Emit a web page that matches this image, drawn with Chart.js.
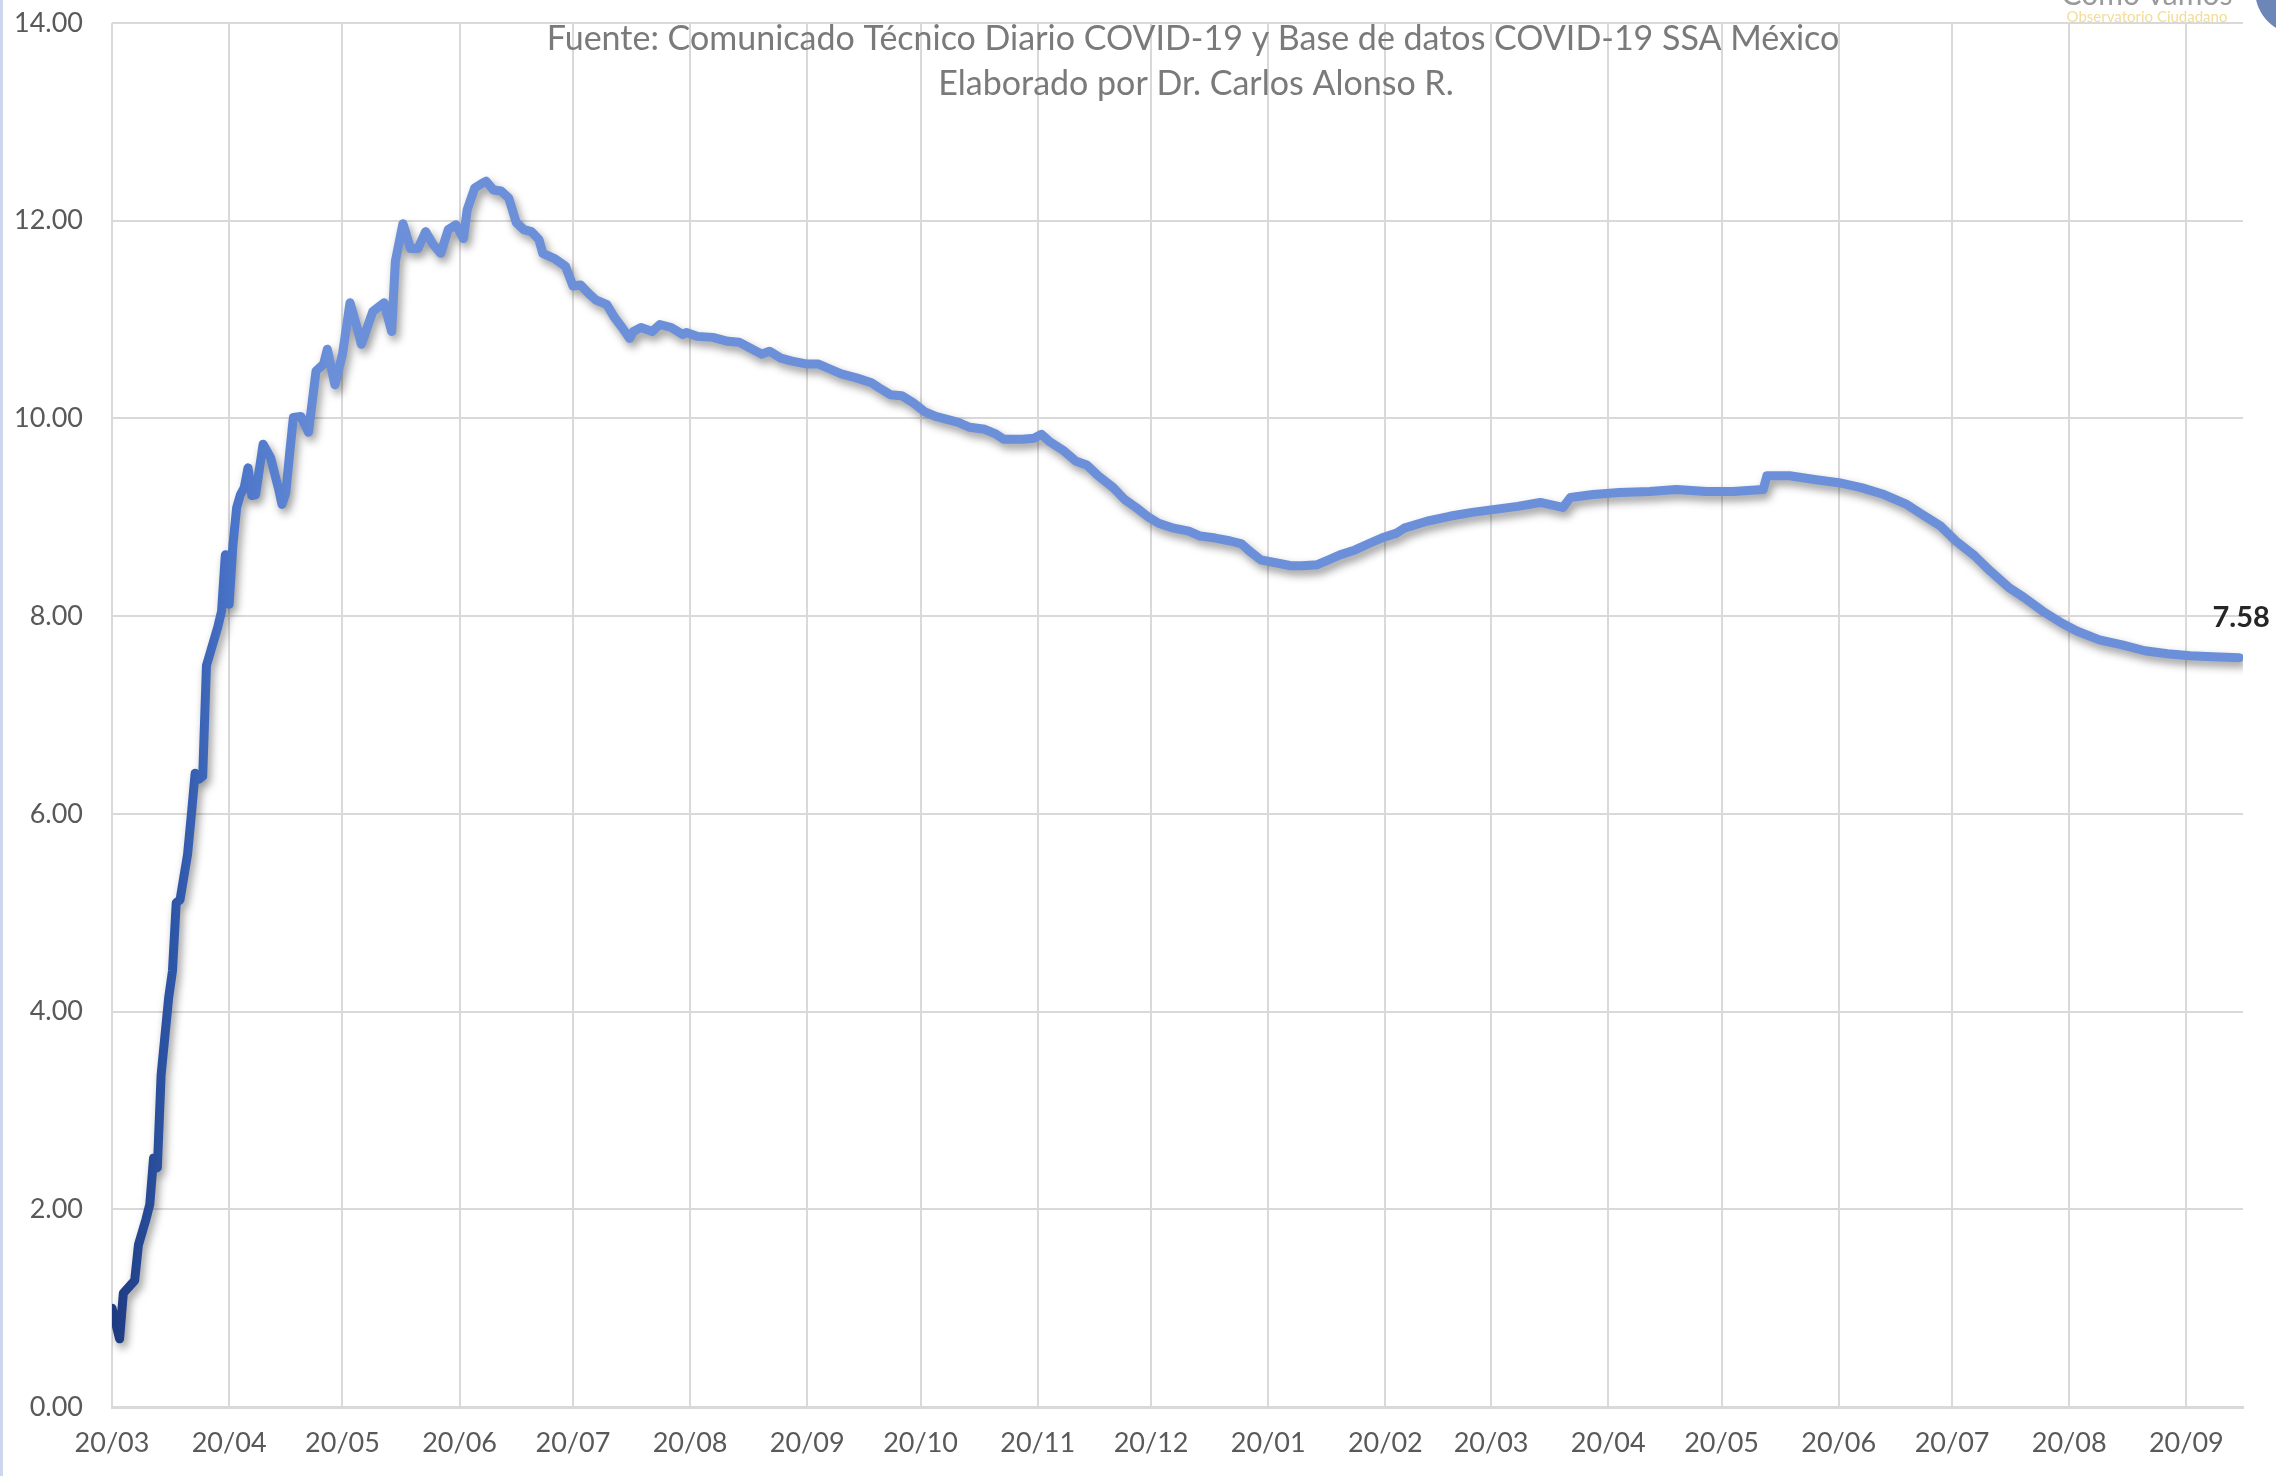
<!DOCTYPE html>
<html lang="es">
<head>
    <meta charset="utf-8">
    <title>Letalidad COVID-19 México</title>
    <script src="https://cdn.jsdelivr.net/npm/chart.js"></script>
    <style>
        html, body { margin: 0; padding: 0; background: #ffffff; }
        #wrap { position: relative; width: 2276px; height: 1476px; }
    </style>
</head>
<body>
    <div id="wrap"><canvas id="cfrChart"></canvas></div>
    <script>
        // days counted from 20/03/2020, value = letalidad (%)
        const days = [
            0, 2, 3, 6, 7, 9, 10, 11, 12, 13, 15, 16, 17, 18, 20, 21, 22, 23, 24, 25, 26, 28, 29,
            30, 31, 32, 33, 34, 35, 36, 37, 38, 40, 42, 44, 45, 46, 47, 48, 50, 52, 54, 56, 57, 59,
            61, 63, 65, 66, 69, 72, 74, 75, 77, 79, 81, 83, 85, 87, 89, 91, 93, 94, 96, 98, 99,
            101, 103, 105, 107, 109, 111, 113, 114, 117, 120, 122, 124, 126, 128, 131, 133, 135,
            137, 138, 140, 143, 145, 148, 151, 152, 155, 159, 163, 166, 169, 172, 174, 177, 180,
            184, 187, 190, 193, 197, 201, 203, 206, 209, 212, 215, 218, 221, 224, 227, 231, 234,
            236, 241, 244, 246, 248, 252, 255, 258, 261, 265, 268, 271, 274, 277, 281, 285, 288,
            292, 296, 299, 301, 304, 308, 312, 315, 319, 322, 325, 329, 333, 336, 340, 342, 348,
            354, 360, 366, 372, 378, 384, 386, 392, 399, 407, 414, 422, 429, 437, 438, 444, 451,
            457, 463, 469, 475, 479, 484, 488, 493, 497, 502, 506, 511, 516, 520, 526, 532, 538,
            544, 550, 556, 563
        ];
        const cfr = [
            1.00, 0.69, 1.15, 1.28, 1.64, 1.90, 2.05, 2.52, 2.42, 3.36, 4.14, 4.41, 5.10, 5.13, 5.59, 5.99, 6.41, 6.35, 6.38, 7.50, 7.63, 7.89, 8.05,
            8.62, 8.12, 8.72, 9.10, 9.23, 9.30, 9.50, 9.22, 9.23, 9.74, 9.60, 9.30, 9.13, 9.25, 9.64, 10.01, 10.02, 9.86, 10.48, 10.55, 10.70, 10.34,
            10.65, 11.17, 10.90, 10.75, 11.08, 11.17, 10.88, 11.59, 11.97, 11.72, 11.72, 11.89, 11.76, 11.67, 11.91, 11.96, 11.82, 12.11, 12.33, 12.38, 12.40,
            12.31, 12.30, 12.23, 11.98, 11.91, 11.89, 11.81, 11.67, 11.62, 11.54, 11.34, 11.35, 11.27, 11.20, 11.15, 11.02, 10.92,
            10.81, 10.88, 10.92, 10.88, 10.95, 10.92, 10.85, 10.87, 10.83, 10.82, 10.78, 10.77, 10.71, 10.65, 10.68, 10.61, 10.58,
            10.55, 10.55, 10.50, 10.45, 10.41, 10.36, 10.31, 10.24, 10.23, 10.16, 10.07, 10.02, 9.99, 9.96, 9.91, 9.89, 9.84,
            9.79, 9.79, 9.80, 9.84, 9.77, 9.67, 9.57, 9.53, 9.42, 9.30, 9.18, 9.10, 9.01, 8.94, 8.89, 8.86, 8.81,
            8.79, 8.76, 8.73, 8.66, 8.57, 8.54, 8.51, 8.51, 8.52, 8.57, 8.62, 8.67, 8.74, 8.79, 8.84, 8.89, 8.96,
            9.01, 9.05, 9.08, 9.11, 9.15, 9.10, 9.20, 9.23, 9.25, 9.26, 9.28, 9.26, 9.26, 9.28, 9.42, 9.42, 9.38,
            9.35, 9.30, 9.23, 9.13, 9.03, 8.91, 8.76, 8.61, 8.46, 8.29, 8.19, 8.05, 7.93, 7.85, 7.76, 7.71, 7.65,
            7.62, 7.60, 7.59, 7.58
        ];
        const startDate = '2020-03-20';
        const tickDates = [
            '2020-03-20', '2020-04-20', '2020-05-20', '2020-06-20', '2020-07-20', '2020-08-20',
            '2020-09-20', '2020-10-20', '2020-11-20', '2020-12-20', '2021-01-20', '2021-02-20',
            '2021-03-20', '2021-04-20', '2021-05-20', '2021-06-20', '2021-07-20', '2021-08-20', '2021-09-20'
        ];
        const tickLabels = [
            '20/03', '20/04', '20/05', '20/06', '20/07', '20/08', '20/09', '20/10', '20/11', '20/12',
            '20/01', '20/02', '20/03', '20/04', '20/05', '20/06', '20/07', '20/08', '20/09'
        ];
        const subtitleLines = [
            'Fuente: Comunicado Técnico Diario COVID-19 y Base de datos COVID-19 SSA México',
            'Elaborado por Dr. Carlos Alonso R.'
        ];
        const logoLines = ['Cómo vamos', 'Observatorio Ciudadano'];

        function dayOffset(d) {
            const [y, m, dd] = d.split('-').map(Number);
            const [y0, m0, d0] = startDate.split('-').map(Number);
            return Math.round((Date.UTC(y, m - 1, dd) - Date.UTC(y0, m0 - 1, d0)) / 86400000);
        }
        const tickDays = tickDates.map(dayOffset);

        function lineColour(context) {
            // dark navy at the start fading into the lighter blue of the rest of the line
            const chart = context.chart;
            if (!chart.chartArea) return '#6b8fd9';
            const xs = chart.scales.x;
            const g = chart.ctx.createLinearGradient(xs.getPixelForValue(0), 0, xs.getPixelForValue(58), 0);
            g.addColorStop(0, '#1e3a80');
            g.addColorStop(0.3, '#2f58aa');
            g.addColorStop(0.55, '#4a74c8');
            g.addColorStop(1, '#6b8fd9');
            return g;
        }

        const lineShadow = {
            id: 'lineShadow',
            beforeDatasetDraw(chart) {
                const c = chart.ctx;
                c.save();
                c.shadowColor = 'rgba(0, 0, 0, 0.4)';
                c.shadowBlur = 9;
                c.shadowOffsetX = 3;
                c.shadowOffsetY = 5;
            },
            afterDatasetDraw(chart) {
                chart.ctx.restore();
            }
        };

        const overlay = {
            id: 'overlay',
            afterDraw(chart) {
                const c = chart.ctx;
                const xs = chart.scales.x, ys = chart.scales.y;
                c.save();
                // frame line on the left
                c.fillStyle = '#cdd8ee';
                c.fillRect(0, 0, 3, chart.height);
                // subtitle
                c.fillStyle = '#7a7a7a';
                c.textAlign = 'center';
                c.textBaseline = 'middle';
                c.font = '34px Lato';
                c.fillText(subtitleLines[0], 1193, 39);
                c.fillText(subtitleLines[1], 1196, 84);
                // last value label
                const n = days.length - 1;
                c.fillStyle = '#262626';
                c.font = 'bold 29px Lato';
                c.fillText(cfr[n].toFixed(2), xs.getPixelForValue(days[n]) + 2, ys.getPixelForValue(cfr[n]) - 40);
                // logo, cut at the top edge
                c.fillStyle = '#9a9a9a';
                c.textBaseline = 'alphabetic';
                c.font = '30px Lato';
                c.fillText(logoLines[0], 2147, 5);
                c.fillStyle = '#f1dc98';
                c.textBaseline = 'middle';
                c.font = '15px Lato';
                c.fillText(logoLines[1], 2147, 17);
                c.fillStyle = '#6d86b8';
                c.beginPath();
                c.arc(2300, -10, 45, 0, Math.PI * 2);
                c.fill();
                c.restore();
            }
        };

        const tickFont = { family: 'Lato', size: 27 };

        const ctx = document.getElementById('cfrChart');
        const chart_object = new Chart(ctx, {
            type: 'line',
            data: {
                datasets: [{
                    label: 'Letalidad',
                    data: days.map((d, i) => ({ x: d, y: cfr[i] })),
                    borderColor: lineColour,
                    borderWidth: 9,
                    borderJoinStyle: 'round',
                    borderCapStyle: 'round',
                    pointRadius: 0,
                    tension: 0
                }]
            },
            options: {
                responsive: true,
                maintainAspectRatio: false,
                animation: false,
                layout: { padding: { top: 23, right: 33, left: 0, bottom: 0 } },
                plugins: {
                    legend: { display: false },
                    tooltip: { enabled: false }
                },
                scales: {
                    x: {
                        type: 'linear',
                        min: 0,
                        max: 564,
                        afterBuildTicks: (scale) => {
                            scale.ticks = tickDays.map(v => ({ value: v }));
                        },
                        afterFit: (scale) => { scale.height = 69; },
                        ticks: {
                            autoSkip: false,
                            maxRotation: 0,
                            minRotation: 0,
                            padding: 20,
                            color: '#595959',
                            font: tickFont,
                            callback: (value, index) => tickLabels[index]
                        },
                        grid: { color: '#d9d9d9', lineWidth: 2, drawTicks: false },
                        border: { color: '#d9d9d9', width: 3 }
                    },
                    y: {
                        min: 0,
                        max: 14,
                        afterFit: (scale) => {
                            // keep the label padding from pushing the plot down
                            scale.width = 112;
                            scale.paddingTop = 0;
                            scale.paddingBottom = 0;
                        },
                        ticks: {
                            stepSize: 2,
                            padding: 29,
                            color: '#595959',
                            font: tickFont,
                            callback: (value) => value.toFixed(2)
                        },
                        grid: { color: '#d9d9d9', lineWidth: 2, drawTicks: false },
                        border: { display: false }
                    }
                }
            },
            plugins: [lineShadow, overlay]
        });
    </script>
</body>
</html>
